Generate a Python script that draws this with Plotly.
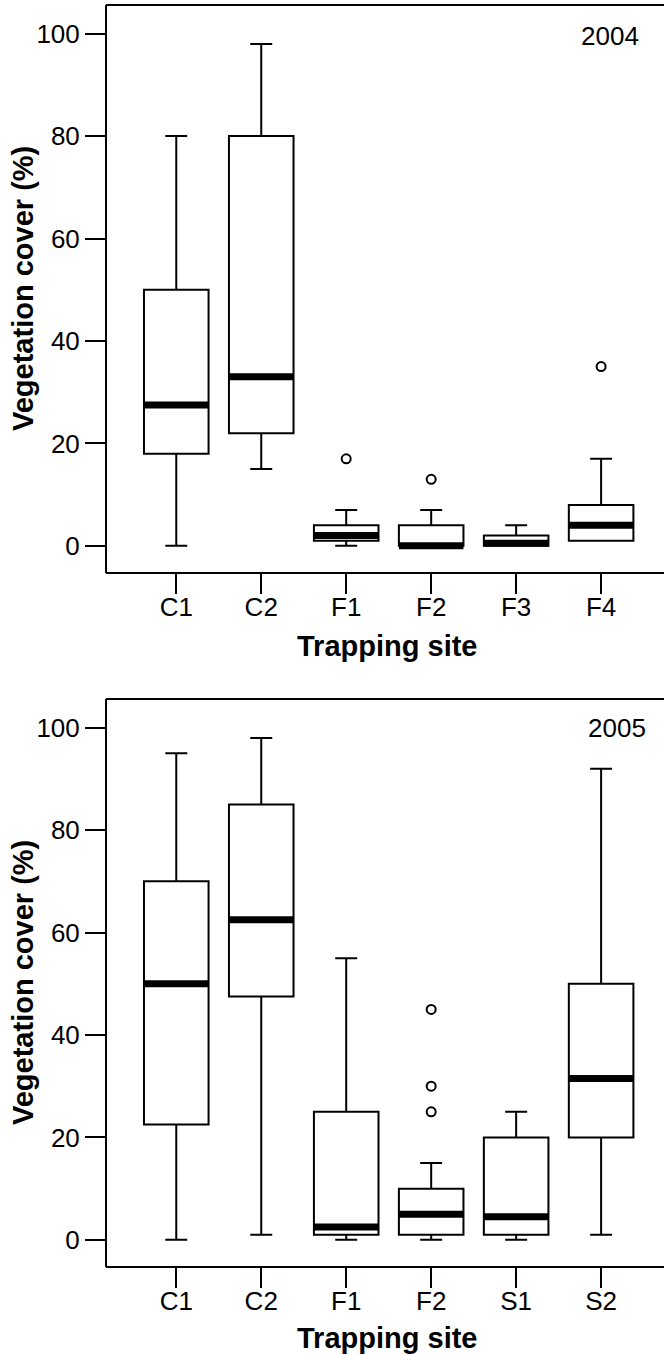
import plotly.graph_objects as go

# ---- data ----
sites_2004 = ["C1", "C2", "F1", "F2", "F3", "F4"]
low_2004 = [0, 15, 0, 0, 0, 1]
q1_2004 = [18, 22, 1, 0, 0, 1]
med_2004 = [27.5, 33, 2, 0, 0.5, 4]
q3_2004 = [50, 80, 4, 4, 2, 8]
high_2004 = [80, 98, 7, 7, 4, 17]
out_sites_2004 = ["F1", "F2", "F4"]
out_vals_2004 = [17, 13, 35]

sites_2005 = ["C1", "C2", "F1", "F2", "S1", "S2"]
low_2005 = [0, 1, 0, 0, 0, 1]
q1_2005 = [22.5, 47.5, 1, 1, 1, 20]
med_2005 = [50, 62.5, 2.5, 5, 4.5, 31.5]
q3_2005 = [70, 85, 25, 10, 20, 50]
high_2005 = [95, 98, 55, 15, 25, 92]
out_sites_2005 = ["F2", "F2", "F2"]
out_vals_2005 = [25, 30, 45]

y_ticks = [0, 20, 40, 60, 80, 100]

FONT = "Liberation Sans, Arial, sans-serif"
W, H = 664, 1354
ML = 106
BOXW = 0.76
LW = 2

fig = go.Figure()

panels = [
    ("x", "y", sites_2004, low_2004, q1_2004, med_2004, q3_2004, high_2004,
     out_sites_2004, out_vals_2004),
    ("x2", "y2", sites_2005, low_2005, q1_2005, med_2005, q3_2005, high_2005,
     out_sites_2005, out_vals_2005),
]

shapes = []
for xa, ya, sites, lo, q1, md, q3, hi, osites, ovals in panels:
    fig.add_trace(go.Box(
        x=sites, lowerfence=lo, q1=q1, median=md, q3=q3, upperfence=hi,
        xaxis=xa, yaxis=ya, boxpoints=False, width=BOXW, whiskerwidth=0.34,
        fillcolor="white", line=dict(color="black", width=LW),
        showlegend=False, hoverinfo="skip"))
    fig.add_trace(go.Scatter(
        x=osites, y=ovals, xaxis=xa, yaxis=ya, mode="markers",
        marker=dict(symbol="circle-open", size=9, color="black",
                    line=dict(width=2, color="black")),
        showlegend=False, hoverinfo="skip"))
    for i, m in enumerate(md):
        shapes.append(dict(type="line", xref=xa, yref=ya,
                           x0=i - BOXW / 2, x1=i + BOXW / 2, y0=m, y1=m,
                           line=dict(color="black", width=7)))
    # frame lines: top, bottom, left (no right side, as in the reference)
    xd, yd = xa + " domain", ya + " domain"
    for x0, x1, y0, y1 in [(0, 1, 1, 1), (0, 1, 0, 0), (0, 0, 0, 1)]:
        shapes.append(dict(type="line", xref=xd, yref=yd,
                           x0=x0, x1=x1, y0=y0, y1=y1,
                           line=dict(color="black", width=LW)))

def px_to_paper_y(py):
    return 1 - py / H

def px_to_paper_x(px):
    return (px - ML) / (W - ML)

top_dom = [px_to_paper_y(573), px_to_paper_y(5)]
bot_dom = [px_to_paper_y(1267), px_to_paper_y(699)]

xcommon = dict(range=[-0.827, 5.74], showline=False, mirror=False,
               ticks="outside", ticklen=20, tickwidth=LW, tickcolor="black",
               showgrid=False, zeroline=False, ticklabelstandoff=-9,
               tickfont=dict(family=FONT, size=26, color="black"),
               type="category")
ycommon = dict(range=[-5.3, 105.6], tickvals=y_ticks, showline=False,
               ticks="outside", ticklen=20, tickwidth=LW, tickcolor="black",
               showgrid=False, zeroline=False, mirror=False,
               tickfont=dict(family=FONT, size=26, color="black"))

annotations = []
for yr, xpx, ypx in [("2004", 610, 36), ("2005", 617, 728)]:
    annotations.append(dict(text=yr, xref="paper", yref="paper",
                            x=px_to_paper_x(xpx), y=px_to_paper_y(ypx),
                            xanchor="center", yanchor="middle", showarrow=False,
                            font=dict(family=FONT, size=26, color="black")))
for ypx in [646, 1338]:
    annotations.append(dict(text="<b>Trapping site</b>", xref="paper", yref="paper",
                            x=px_to_paper_x(387), y=px_to_paper_y(ypx),
                            xanchor="center", yanchor="middle", showarrow=False,
                            font=dict(family=FONT, size=29, color="black")))
for ypx in [289, 983]:
    annotations.append(dict(text="<b>Vegetation cover (%)</b>", xref="paper",
                            yref="paper", x=px_to_paper_x(23), y=px_to_paper_y(ypx),
                            xanchor="center", yanchor="middle", showarrow=False,
                            textangle=-90,
                            font=dict(family=FONT, size=29, color="black")))

fig.update_layout(
    width=W, height=H, margin=dict(l=ML, r=0, t=0, b=0),
    paper_bgcolor="white", plot_bgcolor="white",
    xaxis=dict(**xcommon, domain=[0, 1], anchor="y"),
    yaxis=dict(**ycommon, domain=top_dom, anchor="x"),
    xaxis2=dict(**xcommon, domain=[0, 1], anchor="y2"),
    yaxis2=dict(**ycommon, domain=bot_dom, anchor="x2"),
    shapes=shapes, annotations=annotations,
)

fig.write_html("out.html")
